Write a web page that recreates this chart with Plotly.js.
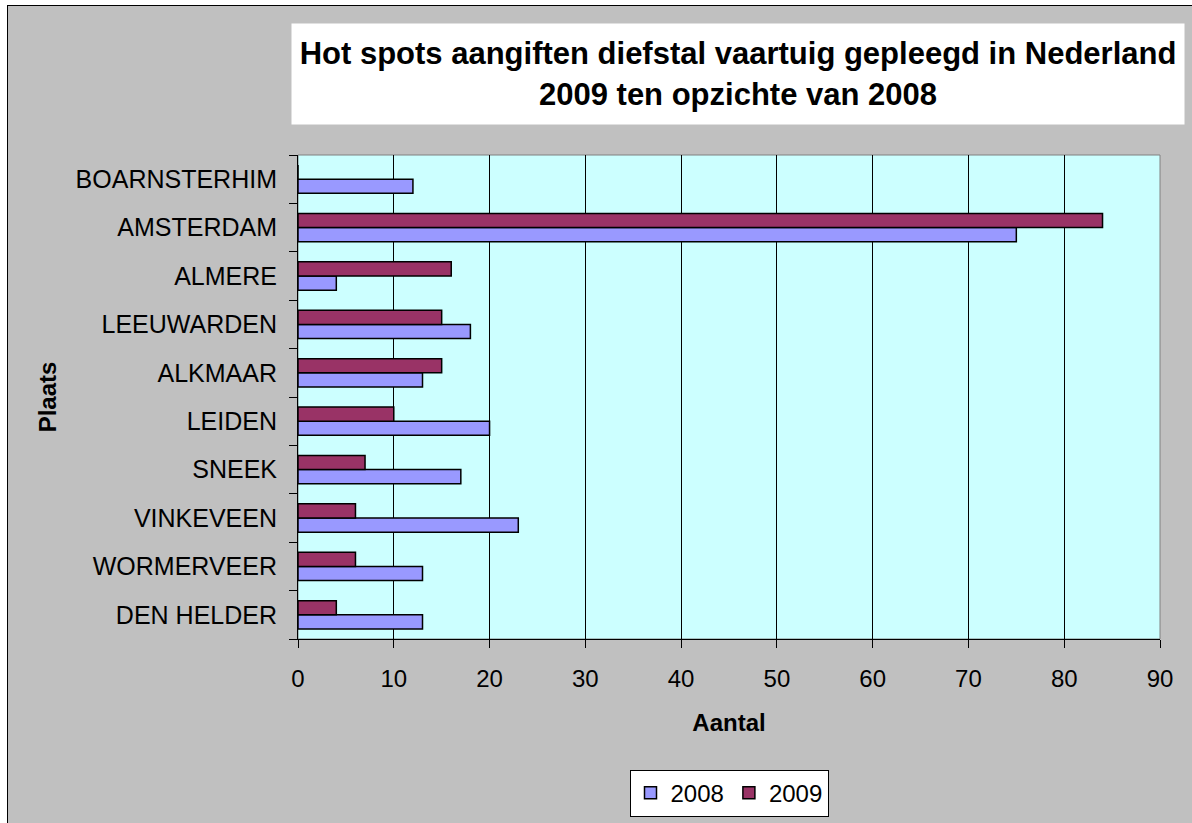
<!DOCTYPE html>
<html>
<head>
<meta charset="utf-8">
<script src="https://cdn.plot.ly/plotly-3.0.1.min.js"></script>
<style>
  html, body { margin: 0; padding: 0; background: #ffffff; overflow: hidden; width: 1192px; height: 823px; }
  #frame { position: absolute; left: 7px; top: 5px; border: 1px solid #000000; width: 1190px; height: 823px; background: #c0c0c0; }
  #chart { width: 1190px; height: 823px; }
</style>
</head>
<body>
<div id="frame"><div id="chart"></div></div>
<script>
// Categories listed bottom to top
const categories = ["DEN HELDER", "WORMERVEER", "VINKEVEEN", "SNEEK", "LEIDEN",
                    "ALKMAAR", "LEEUWARDEN", "ALMERE", "AMSTERDAM", "BOARNSTERHIM"];
const values2008 = [13, 13, 23, 17, 20, 13, 18, 4, 75, 12];
const values2009 = [4, 6, 6, 7, 10, 15, 15, 16, 84, 0];
const seriesNames = ["2008", "2009"];
const xTicks = [0, 10, 20, 30, 40, 50, 60, 70, 80, 90];

const FONT = "Liberation Sans, Arial, Helvetica, sans-serif";

const traces = [
  {
    type: "bar", orientation: "h", name: seriesNames[0],
    y: categories, x: values2008,
    marker: { color: "#9999ff", line: { color: "#000000", width: 1.5 } },
    hoverinfo: "x+y"
  },
  {
    type: "bar", orientation: "h", name: seriesNames[1],
    y: categories, x: values2009,
    marker: { color: "#993366", line: { color: "#000000", width: 1.5 } },
    hoverinfo: "x+y"
  }
];

const layout = {
  width: 1190, height: 823,
  paper_bgcolor: "#c0c0c0",
  plot_bgcolor: "#ccffff",
  margin: { l: 290, r: 38, t: 149, b: 185, pad: 0 },
  font: { family: FONT, size: 24, color: "#000000" },
  barmode: "group",
  bargap: 0.415,
  bargroupgap: 0,
  showlegend: true,
  legend: {
    orientation: "h",
    x: 0.5, xanchor: "center",
    y: -0.27, yanchor: "top",
    bgcolor: "#ffffff",
    bordercolor: "#000000",
    borderwidth: 1,
    font: { family: FONT, size: 24, color: "#000000" },
    traceorder: "normal"
  },
  xaxis: {
    range: [0, 90],
    tickvals: xTicks,
    ticktext: xTicks.map(String),
    ticks: "outside", ticklen: 8, tickcolor: "#000000", tickwidth: 1,
    showline: true, linecolor: "#000000", linewidth: 1,
    showgrid: true, gridcolor: "#000000", gridwidth: 1,
    zeroline: false,
    ticklabelstandoff: 10,
    tickfont: { family: FONT, size: 24, color: "#000000" },
    title: { text: "<b>Aantal</b>", font: { family: FONT, size: 24, color: "#000000" }, standoff: 23 },
    fixedrange: true
  },
  yaxis: {
    type: "category",
    categoryorder: "array",
    categoryarray: categories,
    tickson: "boundaries",
    ticks: "outside", ticklen: 8, tickcolor: "#000000", tickwidth: 1,
    showline: true, linecolor: "#000000", linewidth: 1,
    showgrid: false,
    zeroline: false,
    ticklabelstandoff: 15,
    tickfont: { family: FONT, size: 25, color: "#000000" },
    title: { text: "<b>Plaats</b>", font: { family: FONT, size: 24, color: "#000000" }, standoff: 12 },
    fixedrange: true
  },
  shapes: [
    {
      type: "rect", xref: "paper", yref: "paper",
      x0: 0, x1: 1, y0: 0, y1: 1,
      line: { color: "#808080", width: 1 },
      fillcolor: "rgba(0,0,0,0)",
      layer: "below"
    }
  ],
  annotations: [
    {
      xref: "paper", yref: "paper",
      x: 0.5104, y: 1.168,
      xanchor: "center", yanchor: "middle",
      width: 892, height: 100,
      bgcolor: "#ffffff",
      borderpad: 0,
      showarrow: false,
      align: "center",
      valign: "middle",
      text: "<b>Hot spots aangiften diefstal vaartuig gepleegd in Nederland<br>2009 ten opzichte van 2008</b>",
      font: { family: FONT, size: 31, color: "#000000" }
    }
  ]
};

Plotly.newPlot("chart", traces, layout, { displayModeBar: false, staticPlot: true });
</script>
</body>
</html>
